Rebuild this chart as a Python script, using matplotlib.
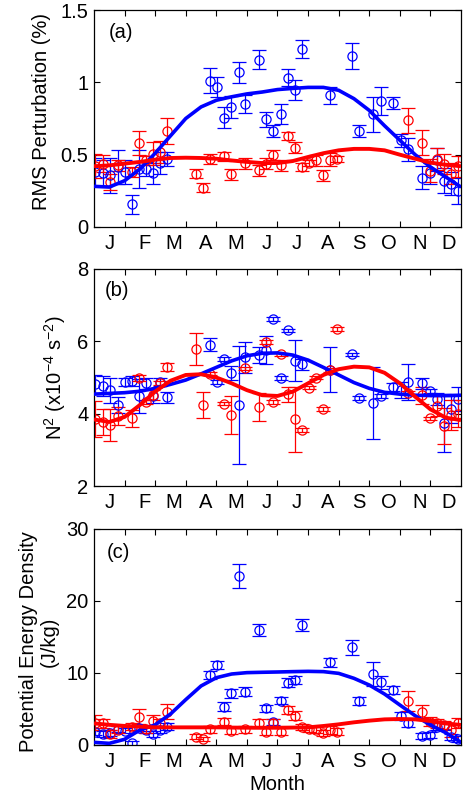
import matplotlib
matplotlib.use("Agg")
import matplotlib.pyplot as plt
from matplotlib.ticker import FixedLocator, NullFormatter, FixedFormatter

plt.rcParams['font.family'] = ['Liberation Sans', 'DejaVu Sans']
plt.rcParams['mathtext.fontset'] = 'custom'
plt.rcParams['mathtext.rm'] = 'Liberation Sans'
plt.rcParams['mathtext.it'] = 'Liberation Sans:italic'
plt.rcParams['mathtext.default'] = 'regular'

# ---------------- data (x in months since 1 Jan) ----------------
month_labels = ['J', 'F', 'M', 'A', 'M', 'J', 'J', 'A', 'S', 'O', 'N', 'D']
month_label_pos = [0.53, 1.65, 2.62, 3.65, 4.63, 5.65, 6.63, 7.65, 8.65, 9.63, 10.65, 11.6]
month_edges = [1, 2, 3, 4, 5, 6, 7, 8, 9, 10, 11]

blue_x = [0.04, 0.29, 0.53, 0.78, 1.0, 1.23, 1.47, 1.70, 1.93, 2.15, 2.40,
          3.78, 4.02, 4.25, 4.49, 4.73, 4.93, 5.40, 5.63, 5.85, 6.10, 6.33,
          6.57, 6.81, 7.73, 8.43, 8.66, 9.13, 9.37, 9.79, 10.03, 10.27,
          10.74, 10.98, 11.2, 11.44, 11.67, 11.9]
red_x = [0.04, 0.29, 0.53, 0.78, 1.23, 1.47, 1.70, 1.93, 2.15, 2.40,
         3.32, 3.56, 3.78, 4.25, 4.49, 4.93, 5.40, 5.63, 5.85, 6.10, 6.33,
         6.57, 6.81, 7.04, 7.27, 7.49, 7.72, 7.96, 10.27, 10.74, 10.98,
         11.2, 11.44, 11.67, 11.9]

# panel (a): RMS perturbation (%)
rms_blue = [0.38, 0.37, 0.357, 0.415, 0.38, 0.157, 0.40, 0.40, 0.37, 0.44, 0.47,
            1.01, 0.97, 0.756, 0.83, 1.07, 0.85, 1.157, 0.744, 0.664, 0.783, 1.032,
            0.945, 1.228, 0.91, 1.182, 0.664, 0.779, 0.871, 0.859, 0.60, 0.537,
            0.34, 0.37, 0.465, 0.32, 0.30, 0.249]
rms_blue_err = [0.10, 0.09, 0.12, 0.12, 0.08, 0.065, 0.13, 0.05, 0.075, 0.075, 0.045,
                0.087, 0.07, 0.075, 0.075, 0.072, 0.064, 0.064, 0.052, 0.04, 0.07, 0.06,
                0.07, 0.063, 0.058, 0.089, 0.04, 0.12, 0.10, 0.04, 0.046, 0.08,
                0.08, 0.075, 0.08, 0.086, 0.08, 0.087]
rms_red = [0.42, 0.438, 0.311, 0.426, 0.38, 0.58, 0.46, 0.507, 0.518, 0.664,
           0.369, 0.272, 0.472, 0.488, 0.364, 0.442, 0.392, 0.438, 0.495, 0.426, 0.629,
           0.548, 0.415, 0.442, 0.46, 0.357, 0.465, 0.468, 0.737, 0.583, 0.39,
           0.472, 0.438, 0.369, 0.42]
rms_red_err = [0.083, 0.06, 0.052, 0.04, 0.035, 0.084, 0.029, 0.078, 0.075, 0.09,
               0.032, 0.032, 0.035, 0.03, 0.036, 0.038, 0.04, 0.04, 0.035, 0.04, 0.026,
               0.038, 0.029, 0.02, 0.035, 0.04, 0.045, 0.02, 0.086, 0.085, 0.08,
               0.075, 0.07, 0.075, 0.072]

# panel (b): N^2 (1e-4 s^-2)
n2_blue = [4.82, 4.76, 4.65, 4.24, 4.87, 4.90, 4.49, 4.84, 4.49, 4.87, 4.45,
           5.90, 4.87, 5.51, 5.13, 4.24, 5.56, 5.62, 5.76, 6.62, 4.99, 6.30,
           5.47, 5.36, 5.21, 5.64, 4.44, 4.30, 4.49, 4.74, 4.65, 4.88,
           4.84, 4.63, 4.40, 3.75, 4.12, 4.40]
n2_blue_err = [0.25, 0.27, 0.35, 0.23, 0.11, 0.14, 0.48, 0.15, 0.19, 0.11, 0.16,
               0.18, 0.05, 0.06, 0.20, 1.62, 0.43, 0.21, 0.38, 0.05, 0.05, 0.05,
               0.58, 0.16, 0.62, 0.05, 0.05, 1.00, 0.05, 0.11, 0.23, 0.50,
               0.15, 0.05, 0.17, 0.80, 0.37, 0.34]
n2_red = [3.85, 3.77, 3.68, 3.93, 3.87, 4.99, 4.33, 4.51, 4.84, 5.30,
          5.79, 4.24, 5.11, 4.28, 3.96, 5.25, 4.19, 5.99, 4.33, 5.64, 4.54,
          3.84, 3.54, 4.72, 5.00, 4.13, 5.21, 6.34, 4.58, 4.51, 3.87,
          4.21, 3.65, 3.96, 4.00]
n2_red_err = [0.49, 0.37, 0.44, 0.25, 0.23, 0.09, 0.05, 0.14, 0.05, 0.11,
              0.44, 0.37, 0.05, 0.05, 0.52, 0.05, 0.39, 0.05, 0.05, 0.05, 0.21,
              0.90, 0.05, 0.05, 0.05, 0.05, 0.05, 0.05, 0.05, 0.23, 0.05,
              0.28, 0.50, 0.42, 0.37]

# panel (c): potential energy density (J/kg)
pe_blue = [1.85, 1.53, 1.71, 2.18, 2.0, 0.23, 2.31, 2.08, 1.53, 2.08, 2.55,
           9.72, 11.1, 5.32, 7.18, 23.5, 7.4, 16.0, 5.09, 3.24, 6.16, 8.66,
           9.03, 16.67, 11.5, 13.56, 6.11, 9.86, 8.7, 7.64, 4.03, 3.1,
           1.25, 1.34, 2.55, 2.64, 1.16, 0.79]
pe_blue_err = [0.5, 0.4, 0.4, 0.4, 0.4, 0.3, 0.4, 0.4, 0.4, 0.4, 0.5,
               0.6, 0.6, 0.6, 0.6, 1.7, 0.6, 0.8, 0.5, 0.4, 0.5, 0.6,
               0.6, 0.8, 0.6, 1.0, 0.5, 1.7, 0.9, 0.6, 0.5, 0.6,
               0.4, 0.4, 0.5, 0.5, 0.4, 0.4]
pe_red = [3.1, 3.0, 1.53, 2.1, 2.55, 3.94, 2.18, 3.38, 3.1, 4.63,
          1.16, 0.79, 2.18, 3.24, 1.99, 2.18, 3.0, 1.85, 3.1, 1.85, 4.86,
          4.07, 2.45, 2.18, 2.08, 1.71, 2.08, 1.85, 6.11, 4.63, 3.24,
          3.0, 2.78, 2.08, 3.0]
pe_red_err = [1.0, 0.6, 0.5, 0.5, 0.5, 1.0, 0.5, 0.8, 0.5, 1.0,
              0.3, 0.3, 0.5, 0.5, 0.5, 0.5, 0.6, 0.5, 0.5, 0.5, 0.6,
              0.6, 0.4, 0.4, 0.4, 0.4, 0.5, 0.5, 1.4, 0.9, 0.6,
              0.6, 0.6, 0.9, 0.7]

fit_x = [0.0, 0.5, 1.0, 1.5, 2.0, 2.5, 3.0, 3.5, 4.0, 4.5, 5.0, 5.5, 6.0,
         6.5, 7.0, 7.5, 8.0, 8.5, 9.0, 9.5, 10.0, 10.5, 11.0, 11.5, 12.0]
rms_fit_blue = [0.281, 0.276, 0.32, 0.40, 0.51, 0.63, 0.75, 0.83, 0.876, 0.90, 0.92,
                0.933, 0.95, 0.958, 0.965, 0.965, 0.945, 0.887, 0.806, 0.70, 0.60,
                0.50, 0.415, 0.346, 0.276]
rms_fit_red = [0.42, 0.426, 0.438, 0.45, 0.465, 0.477, 0.479, 0.477, 0.472, 0.46,
               0.45, 0.442, 0.442, 0.456, 0.484, 0.51, 0.53, 0.54, 0.54, 0.53,
               0.50, 0.472, 0.445, 0.43, 0.42]
n2_fit_blue = [4.54, 4.56, 4.58, 4.62, 4.70, 4.81, 4.93, 5.10, 5.28, 5.46, 5.60,
               5.67, 5.68, 5.62, 5.48, 5.28, 5.07, 4.86, 4.70, 4.59, 4.54, 4.51,
               4.50, 4.50, 4.51]
n2_fit_red = [3.84, 3.77, 3.91, 4.24, 4.61, 4.91, 5.07, 5.09, 5.00, 4.84, 4.65,
              4.51, 4.49, 4.61, 4.84, 5.07, 5.23, 5.30, 5.28, 5.13, 4.84, 4.47,
              4.12, 3.89, 3.82]
pe_fit_blue = [0.37, 0.23, 0.79, 2.08, 2.8, 4.3, 6.3, 8.2, 9.35, 9.86, 10.05,
               10.1, 10.14, 10.19, 10.23, 10.19, 9.95, 9.26, 8.33, 7.08, 5.56,
               4.07, 2.78, 1.71, 0.37]
pe_fit_red = [3.0, 2.8, 2.65, 2.55, 2.45, 2.45, 2.45, 2.45, 2.45, 2.42, 2.4,
              2.4, 2.4, 2.42, 2.45, 2.64, 2.87, 3.15, 3.38, 3.56, 3.61, 3.56,
              3.33, 3.0, 2.78]

BLUE = (0, 0, 1)
RED = (1, 0, 0)
FS = 14.5

fig = plt.figure(figsize=(4.64, 8.0), dpi=100)
L, W = 94 / 464, 367 / 464
ax_a = fig.add_axes([L, 1 - 227 / 800, W, 217 / 800])
ax_b = fig.add_axes([L, 1 - 486 / 800, W, 217 / 800])
ax_c = fig.add_axes([L, 1 - 745 / 800, W, 216 / 800])


def draw(ax, yb, eb, yr, er, fb, fr):
    kw = dict(fmt='o', mfc='none', ms=6.6, mew=0.9, elinewidth=0.9,
              capsize=4.8, capthick=0.9, zorder=2)
    ax.errorbar(blue_x, yb, yerr=eb, color=BLUE, **kw)
    ax.errorbar(red_x, yr, yerr=er, color=RED, **kw)
    ax.plot(fit_x, fb, color=BLUE, lw=2.6, zorder=3, solid_capstyle='butt')
    ax.plot(fit_x, fr, color=RED, lw=2.8, zorder=3, solid_capstyle='butt')
    ax.set_xlim(0, 12)
    ax.xaxis.set_major_locator(FixedLocator(month_edges))
    ax.xaxis.set_major_formatter(NullFormatter())
    ax.xaxis.set_minor_locator(FixedLocator(month_label_pos))
    ax.xaxis.set_minor_formatter(FixedFormatter(month_labels))
    ax.tick_params(axis='x', which='major', direction='in', length=4, width=0.8,
                   top=True, bottom=True)
    ax.tick_params(axis='x', which='minor', length=0, labelsize=FS, pad=5)
    ax.tick_params(axis='y', which='major', direction='in', length=4, width=0.8,
                   left=True, right=True, labelsize=FS, pad=4)
    for s in ax.spines.values():
        s.set_linewidth(0.9)


draw(ax_a, rms_blue, rms_blue_err, rms_red, rms_red_err, rms_fit_blue, rms_fit_red)
ax_a.set_ylim(0, 1.5)
ax_a.set_yticks([0, 0.5, 1, 1.5])
ax_a.set_yticklabels(['0', '0.5', '1', '1.5'])
ax_a.set_ylabel('RMS Perturbation (%)', fontsize=FS)
ax_a.yaxis.set_label_coords(-0.118, 0.53)
ax_a.text(0.04, 0.895, '(a)', transform=ax_a.transAxes, fontsize=FS, ha='left', va='center')

draw(ax_b, n2_blue, n2_blue_err, n2_red, n2_red_err, n2_fit_blue, n2_fit_red)
ax_b.set_ylim(2, 8)
ax_b.set_yticks([2, 4, 6, 8])
ax_b.set_ylabel('N$^{2}$ (x10$^{-4}$ s$^{-2}$)', fontsize=FS)
ax_b.yaxis.set_label_coords(-0.07, 0.5)
ax_b.text(0.03, 0.9, '(b)', transform=ax_b.transAxes, fontsize=FS, ha='left', va='center')

draw(ax_c, pe_blue, pe_blue_err, pe_red, pe_red_err, pe_fit_blue, pe_fit_red)
ax_c.set_ylim(0, 30)
ax_c.set_yticks([0, 10, 20, 30])
ax_c.set_ylabel('Potential Energy Density\n(J/kg)', fontsize=FS, linespacing=1.15)
ax_c.yaxis.set_label_coords(-0.095, 0.48)
ax_c.set_xlabel('Month', fontsize=FS, labelpad=3)
ax_c.text(0.035, 0.89, '(c)', transform=ax_c.transAxes, fontsize=FS, ha='left', va='center')

fig.savefig('out.png', dpi=100)
